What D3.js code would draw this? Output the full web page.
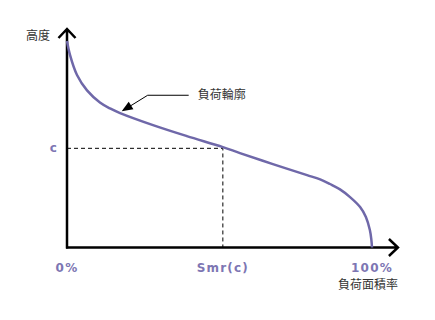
<!DOCTYPE html>
<html><head><meta charset="UTF-8">
<style>
body { margin: 0; background: #fff; }
.curve { fill: none; stroke: #6f68a9; stroke-width: 2.5; }
.axis-line { fill: none; stroke: #000; stroke-width: 2.5; }
.guide { fill: none; stroke: #000; stroke-width: 1; stroke-dasharray: 4,3; }
.tick-label { font-family: "DejaVu Sans", sans-serif; font-weight: bold; font-size: 12px; fill: #7d76b3; letter-spacing: 1.2px; }
.cjk { font-family: "Noto Sans CJK TC", sans-serif; font-size: 12px; fill: #333; }
</style>
<script src="https://cdn.jsdelivr.net/npm/d3@7"></script>
</head><body>
<div id="chart"></div>
<script>
// bearing area curve: load area ratio (%) vs height
var areaPct = [0, 0.98, 3.28, 6.56, 10.8, 14.1, 17.4, 28.2, 39.3, 51.1, 56.7, 67.5, 78.7, 83.0, 86.2, 89.5, 92.8, 96.1, 98.0, 99.3, 99.8, 100];
var heights = [99.5, 92.8, 83.1, 75.7, 69.9, 67.0, 64.8, 59.0, 53.7, 48.4, 45.5, 40.2, 34.9, 32.8, 30.6, 28.0, 24.3, 19.5, 14.7, 8.4, 3.6, 0];

var cLevel = 47.8;     // height c
var smrC = 51.1;       // Smr(c)
var tickValues = [0, smrC, 100];
var tickLabels = ["0%", "Smr(c)", "100%"];

var yTitle = "高度";
var xTitle = "負荷面積率";
var noteText = "負荷輪廓";
var notePoint = 17.6;  // where the annotation arrow points on the curve

var width = 435, height = 320;

var x = d3.scaleLinear().domain([0, 100]).range([67, 372]);
var y = d3.scaleLinear().domain([0, 100]).range([247.5, 40]);

var svg = d3.select("#chart").append("svg")
    .attr("width", width)
    .attr("height", height);

var points = areaPct.map(function(d, i) { return [d, heights[i]]; });

// dashed guides for c / Smr(c)
svg.append("path")
    .attr("class", "guide")
    .attr("d", "M" + x(0) + "," + y(cLevel) + "H" + x(smrC) + "V" + y(0));

// axes with open arrow heads
var xEnd = x(108.5), yEnd = y(105.3);
svg.append("path")
    .attr("class", "axis-line")
    .attr("d", "M" + x(0) + "," + (y(0) + 1) + "V" + yEnd +
               "M" + (x(0) - 8.5) + "," + (yEnd + 9) + "L" + x(0) + "," + yEnd + "L" + (x(0) + 8.5) + "," + (yEnd + 9));
svg.append("path")
    .attr("class", "axis-line")
    .attr("d", "M" + (x(0) - 1) + "," + y(0) + "H" + xEnd +
               "M" + (xEnd - 9) + "," + (y(0) - 8.5) + "L" + xEnd + "," + y(0) + "L" + (xEnd - 9) + "," + (y(0) + 8.5));

// curve
var line = d3.line()
    .x(function(d) { return x(d[0]); })
    .y(function(d) { return y(d[1]); })
    .curve(d3.curveCatmullRom.alpha(0.5));

svg.append("path")
    .datum(points)
    .attr("class", "curve")
    .attr("d", line);

// annotation arrow
var tipX = x(notePoint) + 1, tipY = y(d3.interpolateNumber(64.8, 59.0)((notePoint - 17.4) / 10.8)) - 2;
var elbowX = tipX + 26, elbowY = tipY - 16;
svg.append("path")
    .attr("fill", "none")
    .attr("stroke", "#000")
    .attr("stroke-width", 1)
    .attr("d", "M" + (tipX + 5) + "," + (tipY - 3) + "L" + elbowX + "," + elbowY + "H" + (elbowX + 41));
var ang = Math.atan2(elbowY - tipY, elbowX - tipX);
var hl = 11, hw = 4.5;
var bx = tipX + hl * Math.cos(ang), by = tipY + hl * Math.sin(ang);
svg.append("path")
    .attr("fill", "#000")
    .attr("d", "M" + tipX + "," + tipY +
               "L" + (bx - hw * Math.sin(ang)) + "," + (by + hw * Math.cos(ang)) +
               "L" + (bx + hw * Math.sin(ang)) + "," + (by - hw * Math.cos(ang)) + "Z");
svg.append("text")
    .attr("class", "cjk")
    .attr("x", elbowX + 50)
    .attr("y", elbowY)
    .attr("dy", "0.35em")
    .text(noteText);

// tick labels
svg.selectAll(".tick-label.x")
    .data(tickValues)
    .enter().append("text")
    .attr("class", "tick-label x")
    .attr("x", function(d) { return x(d); })
    .attr("y", 268)
    .attr("dy", "0.35em")
    .attr("text-anchor", "middle")
    .text(function(d, i) { return tickLabels[i]; });

svg.append("text")
    .attr("class", "tick-label")
    .attr("x", 54)
    .attr("y", y(cLevel))
    .attr("dy", "0.3em")
    .attr("text-anchor", "middle")
    .text("c");

// axis titles
svg.append("text")
    .attr("class", "cjk")
    .attr("x", 50)
    .attr("y", 36)
    .attr("dy", "0.35em")
    .attr("text-anchor", "end")
    .text(yTitle);

svg.append("text")
    .attr("class", "cjk")
    .attr("x", 398)
    .attr("y", 285)
    .attr("dy", "0.35em")
    .attr("text-anchor", "end")
    .text(xTitle);
</script>
</body></html>
